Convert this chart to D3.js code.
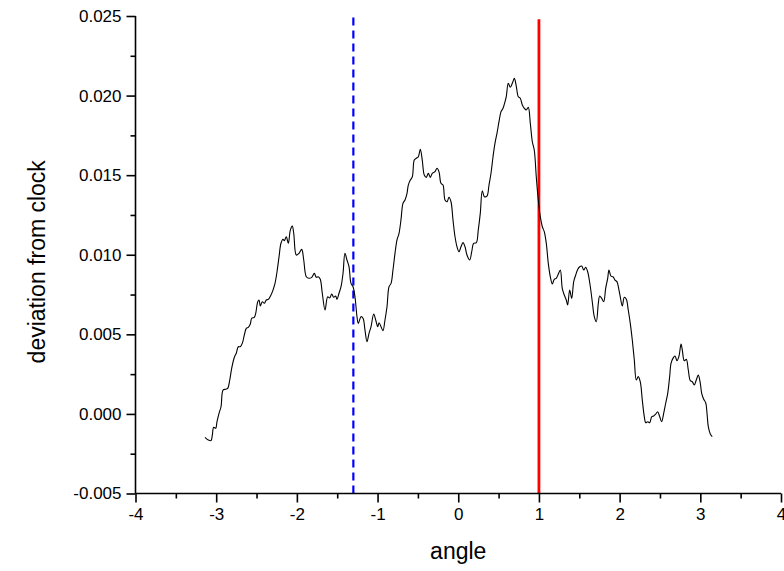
<!DOCTYPE html>
<html>
<head>
<meta charset="utf-8">
<script src="https://cdn.jsdelivr.net/npm/d3@7/dist/d3.min.js"></script>
<style>
  html, body { margin: 0; padding: 0; background: #fff; }
  svg { display: block; }
  text { font-family: Arial, "Liberation Sans", sans-serif; fill: #000; }
</style>
</head>
<body>
<svg id="chart" width="784" height="571"></svg>
<script>
// ---- data ----
const angle = [
  -3.139,-3.098,-3.064,-3.048,-3.031,-3.006,-2.990,-2.965,-2.940,-2.915,
  -2.882,-2.857,-2.832,-2.808,-2.775,-2.751,-2.726,-2.701,-2.676,-2.651,
  -2.627,-2.602,-2.577,-2.560,-2.528,-2.510,-2.485,-2.469,-2.453,-2.428,
  -2.404,-2.379,-2.354,-2.321,-2.296,-2.271,-2.246,-2.221,-2.197,-2.172,
  -2.156,-2.131,-2.106,-2.081,-2.057,-2.039,-2.007,-1.974,-1.940,-1.915,
  -1.883,-1.850,-1.816,-1.784,-1.759,-1.734,-1.710,-1.685,-1.651,
  -1.618,-1.593,-1.568,-1.544,-1.519,-1.503,-1.478,-1.453,-1.428,-1.404,
  -1.379,-1.354,-1.329,-1.304,-1.280,-1.255,-1.239,-1.205,-1.180,-1.156,
  -1.131,-1.106,-1.081,-1.048,-1.023,-0.998,-0.982,-0.957,-0.933,-0.908,
  -0.883,-0.858,-0.833,-0.809,-0.784,-0.759,-0.734,-0.710,-0.685,-0.660,
  -0.635,-0.619,-0.594,-0.569,-0.545,-0.520,-0.495,-0.470,-0.446,-0.421,
  -0.396,-0.371,-0.346,-0.322,-0.288,-0.263,-0.239,-0.214,-0.189,-0.164,
  -0.139,-0.115,-0.090,-0.065,-0.040,-0.015,0.009,
  0.034,0.059,0.084,0.108,0.142,0.167,0.191,0.224,0.248,0.273,
  0.298,0.323,0.356,0.381,0.406,0.431,0.455,0.480,0.505,0.530,
  0.555,0.579,0.595,0.620,0.645,0.670,0.695,0.719,0.744,0.769,
  0.794,0.819,0.843,0.868,0.893,0.918,0.942,0.967,0.992,1.017,
  1.042,1.066,1.091,1.116,1.141,1.166,1.190,1.215,1.240,1.265,
  1.289,1.314,1.339,1.356,1.381,1.406,1.431,1.456,1.480,1.505,
  1.530,1.555,1.579,
  1.604,1.637,1.661,1.686,1.711,1.736,1.753,1.778,1.803,1.827,
  1.852,1.868,1.893,1.918,1.943,1.967,1.992,2.008,2.033,2.058,
  2.083,2.107,2.132,2.157,2.182,2.207,2.231,2.256,2.281,2.306,
  2.323,2.348,2.373,2.397,2.422,2.447,2.472,2.497,2.521,2.546,
  2.571,2.596,2.620,2.637,2.661,2.686,2.711,2.736,2.761,2.777,
  2.801,2.826,2.851,2.876,2.901,2.925,2.950,2.975,3.000,3.017,
  3.042,3.067,3.083,3.099,3.124,3.148
];
const deviation = [
  -0.00147,-0.00164,-0.00168,-0.00133,-0.00084,-0.00090,-0.00049,0.00004,0.00045,0.00150,
  0.00155,0.00161,0.00213,0.00286,0.00356,0.00381,0.00422,0.00422,0.00444,0.00496,
  0.00538,0.00544,0.00565,0.00601,0.00607,0.00632,0.00705,0.00716,0.00678,0.00705,
  0.00695,0.00716,0.00720,0.00747,0.00778,0.00820,0.00893,0.00988,0.01072,0.01097,
  0.01088,0.01113,0.01072,0.01155,0.01180,0.01135,0.00998,0.01009,0.01034,0.00967,
  0.00862,0.00852,0.00858,0.00883,0.00858,0.00862,0.00846,0.00758,0.00653,
  0.00736,0.00728,0.00753,0.00733,0.00741,0.00720,0.00758,0.00799,0.00883,0.01009,
  0.00967,0.00925,0.00820,0.00799,0.00736,0.00611,0.00569,0.00611,0.00601,0.00527,
  0.00454,0.00506,0.00548,0.00628,0.00590,0.00548,0.00573,0.00548,0.00523,0.00590,
  0.00673,0.00799,0.00820,0.00904,0.01009,0.01093,0.01135,0.01218,0.01323,0.01344,
  0.01386,0.01438,0.01469,0.01490,0.01595,0.01606,0.01616,0.01662,0.01595,0.01501,
  0.01486,0.01512,0.01486,0.01512,0.01522,0.01543,0.01522,0.01449,0.01438,0.01344,
  0.01333,0.01361,0.01333,0.01218,0.01113,0.01049,0.01019,
  0.01050,0.01076,0.01050,0.00998,0.00967,0.01019,0.01072,0.01076,0.01155,0.01260,
  0.01402,0.01365,0.01369,0.01438,0.01512,0.01616,0.01700,0.01763,0.01836,0.01899,
  0.01920,0.01961,0.01993,0.02077,0.02052,0.02077,0.02108,0.02060,0.01993,0.01983,
  0.01941,0.01920,0.01909,0.01926,0.01826,0.01710,0.01658,0.01490,0.01344,0.01239,
  0.01176,0.01145,0.01072,0.00946,0.00862,0.00816,0.00846,0.00852,0.00879,0.00904,
  0.00789,0.00747,0.00716,0.00684,0.00778,0.00726,0.00831,0.00873,0.00908,0.00925,
  0.00929,0.00904,0.00921,
  0.00893,0.00799,0.00705,0.00611,0.00579,0.00695,0.00741,0.00726,0.00705,0.00789,
  0.00852,0.00904,0.00866,0.00862,0.00841,0.00831,0.00778,0.00736,0.00678,0.00733,
  0.00720,0.00653,0.00569,0.00464,0.00339,0.00213,0.00234,0.00202,0.00087,-0.00018,
  -0.00055,-0.00049,-0.00055,-0.00018,-0.00013,-0.00001,0.00014,-0.00018,-0.00049,0.00004,
  0.00067,0.00129,0.00234,0.00318,0.00349,0.00364,0.00334,0.00364,0.00439,0.00401,
  0.00334,0.00343,0.00276,0.00209,0.00202,0.00182,0.00213,0.00244,0.00192,0.00129,
  0.00092,0.00070,0.00004,-0.00080,-0.00126,-0.00143
];
const xTicks = [-4, -3, -2, -1, 0, 1, 2, 3, 4];
const xMinorTicks = [-3.5, -2.5, -1.5, -0.5, 0.5, 1.5, 2.5, 3.5];
const yTicks = [-0.005, 0.000, 0.005, 0.010, 0.015, 0.020, 0.025];
const yMinorTicks = [-0.0025, 0.0025, 0.0075, 0.0125, 0.0175, 0.0225];
const markerX = [-1.3, 1.0];            // blue dashed, red solid
const markerTop = [0.0249, 0.0248];
const markerColor = ["#0000ff", "#ff0000"];
const markerDash = ["8,5", null];
const markerWidth = [2.2, 2.8];
const xTitle = "angle";
const yTitle = "deviation from clock";

// ---- layout ----
const svg = d3.select("#chart");
const x = d3.scaleLinear().domain([-4, 4]).range([135.5, 781]);
const y = d3.scaleLinear().domain([-0.005, 0.025]).range([493.5, 16]);
const hy = s => s.replace("\u2212", "-");

// marker lines
markerX.forEach((mx, i) => {
  svg.append("line")
    .attr("x1", x(mx)).attr("x2", x(mx))
    .attr("y1", y(-0.005)).attr("y2", y(markerTop[i]))
    .attr("stroke", markerColor[i])
    .attr("stroke-width", markerWidth[i])
    .attr("stroke-dasharray", markerDash[i]);
});

// curve
const pts = angle.map((a, i) => [a, deviation[i]]);
svg.append("path")
  .datum(pts)
  .attr("fill", "none")
  .attr("stroke", "#000")
  .attr("stroke-width", 1.1)
  .attr("stroke-linejoin", "round")
  .attr("d", d3.line().x(d => x(d[0])).y(d => y(d[1])).curve(d3.curveCatmullRom.alpha(0.5)));

// axes
const xAxis = svg.append("g").attr("transform", `translate(0,${y(-0.005)})`)
  .call(d3.axisBottom(x).tickValues(xTicks).tickSize(9).tickPadding(5)
        .tickFormat(d => hy(d3.format("d")(d))));
const xMinor = svg.append("g").attr("transform", `translate(0,${y(-0.005)})`)
  .call(d3.axisBottom(x).tickValues(xMinorTicks).tickSize(5).tickFormat(""));
const yAxis = svg.append("g").attr("transform", `translate(${x(-4)},0)`)
  .call(d3.axisLeft(y).tickValues(yTicks).tickSize(9).tickPadding(6)
        .tickFormat(d => hy(d3.format(".3f")(d))));
const yMinor = svg.append("g").attr("transform", `translate(${x(-4)},0)`)
  .call(d3.axisLeft(y).tickValues(yMinorTicks).tickSize(5).tickFormat(""));

[xAxis, xMinor, yAxis, yMinor].forEach(g => {
  g.selectAll("path.domain").attr("stroke", "#000").attr("stroke-width", 1.6);
  g.selectAll(".tick line").attr("stroke", "#000").attr("stroke-width", 1.6);
  g.selectAll(".tick text").attr("font-size", 17).attr("font-family", "Arial, 'Liberation Sans', sans-serif").attr("fill", "#000");
});
xMinor.select("path.domain").remove();
yMinor.select("path.domain").remove();
xAxis.select("path.domain").attr("d", `M${x(-4)},0H${x(4)}`);
yAxis.select("path.domain").attr("d", `M0,${y(-0.005)}V${y(0.025)}`);
yAxis.selectAll(".tick text").attr("x", -14);

// titles
svg.append("text")
  .attr("x", x(0)).attr("y", 559)
  .attr("text-anchor", "middle")
  .attr("font-size", 23)
  .text(xTitle);
svg.append("text")
  .attr("transform", `translate(45,${(y(-0.005)+y(0.025))/2 + 7}) rotate(-90)`)
  .attr("text-anchor", "middle")
  .attr("font-size", 23)
  .text(yTitle);
</script>
</body>
</html>
